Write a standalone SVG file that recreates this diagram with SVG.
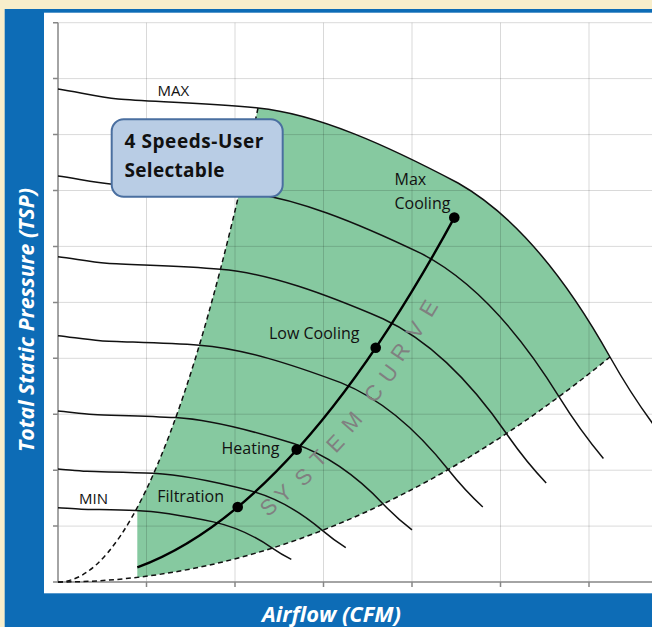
<svg xmlns="http://www.w3.org/2000/svg" xmlns:xlink="http://www.w3.org/1999/xlink" width="652" height="627" viewBox="0 0 652 627">
<style>
.grid{stroke:#000;stroke-opacity:.15;stroke-width:1;fill:none}
.axis{stroke:#868686;stroke-width:1.5;fill:none}
.fan{fill:none;stroke:#111;stroke-width:1.5;vector-effect:non-scaling-stroke}
.dash{fill:none;stroke:#111;stroke-width:1.5;stroke-dasharray:5 3.5}
.sys{fill:none;stroke:#000;stroke-width:2.4}
.lbl{font-family:"Open Sans","Liberation Sans",sans-serif;font-size:16px;fill:#111}
.sm{font-size:15px}
.title{font-family:"Open Sans","Liberation Sans",sans-serif;font-weight:bold;font-style:italic;font-size:22px;fill:#fff}
.box{font-family:"Open Sans","Liberation Sans",sans-serif;font-weight:bold;font-size:19px;fill:#111}
.sc{font-family:"Liberation Sans",sans-serif;font-size:22px;fill:#808080;text-anchor:middle}
</style>
<defs>
<path id="fanCurve" class="fan" d="M0,-493 C20,-490 40,-485 60,-483 C90,-480.5 150,-479 200,-474 C260,-468 330,-436 400,-399 C460,-365 510,-300 552,-225 C570,-193 588,-167 601,-150"/>
</defs>
<g id="frame">
<rect x="0" y="0" width="652" height="627" fill="#F8EECB"/>
<rect x="4.7" y="9" width="648" height="618" fill="#0D6CB6"/>
<rect x="44" y="12.7" width="608" height="580.6" fill="#fff"/>
</g>
<g id="region">
<path d="M258,108 C318,114 388,146 458,183 C518,217 568,282 610,357 Q373.65,549.7 137.3,577.4 L137.3,507.5 Q197.65,394.1 258,108 Z" fill="#86C9A0"/>
</g>
<g id="grid">
<path class="grid" d="M146.5,22.7V582M235,22.7V582M323.5,22.7V582M412,22.7V582M500.5,22.7V582M589,22.7V582"/>
<path class="grid" d="M58,22.7H652M58,78.6H652M58,134.6H652M58,190.5H652M58,246.4H652M58,302.4H652M58,358.3H652M58,414.2H652M58,470.2H652M58,526.1H652"/>
<path class="axis" d="M58,22.7V582H652"/>
<path class="axis" d="M53,22.7H58M53,78.6H58M53,134.6H58M53,190.5H58M53,246.4H58M53,302.4H58M53,358.3H58M53,414.2H58M53,470.2H58M53,526.1H58M53,582H58"/>
<path class="axis" d="M146.5,582V587M235,582V587M323.5,582V587M412,582V587M500.5,582V587M589,582V587"/>
</g>
<g id="connectors">
<use xlink:href="#fanCurve" transform="translate(58 582)"/>
<use xlink:href="#fanCurve" transform="translate(58 582) scale(0.9075 0.8235)"/>
<use xlink:href="#fanCurve" transform="translate(58 582) scale(0.8123 0.6598)"/>
<use xlink:href="#fanCurve" transform="translate(58 582) scale(0.7068 0.4996)"/>
<use xlink:href="#fanCurve" transform="translate(58 582) scale(0.589 0.3469)"/>
<use xlink:href="#fanCurve" transform="translate(58 582) scale(0.4788 0.2292)"/>
<use xlink:href="#fanCurve" transform="translate(58 582) scale(0.3882 0.1507)"/>
<path class="dash" d="M58,582 Q158,582 258,108"/>
<path class="dash" d="M58,582 Q334,582 610,357"/>
<path class="sys" d="M137.3,567.4 Q295.8,509.1 454.3,217.6"/>
</g>
<g id="points">
<circle cx="237.7" cy="507" r="5.3"/>
<circle cx="296.7" cy="449.6" r="5.3"/>
<circle cx="375.7" cy="347.8" r="5.3"/>
<circle cx="454.3" cy="217.6" r="5.3"/>
</g>
<g id="speed-box">
<rect x="111.7" y="119.3" width="171" height="77.4" rx="12" fill="#B9CDE5" stroke="#4A6FA0" stroke-width="2"/>
<text class="box" x="124.5" y="148.3" textLength="139">4 Speeds-User</text>
<text class="box" x="124.5" y="177.3" textLength="100">Selectable</text>
</g>
<g id="labels">
<text class="lbl sm" x="157.5" y="95.5">MAX</text>
<text class="lbl sm" x="79" y="504">MIN</text>
<text class="lbl" x="157.3" y="501.5">Filtration</text>
<text class="lbl" x="221.5" y="454">Heating</text>
<text class="lbl" x="269" y="339">Low Cooling</text>
<text class="lbl" x="394.5" y="185">Max</text>
<text class="lbl" x="394.5" y="208.5">Cooling</text>
</g>
<g id="system-curve-label">
<text class="sc" x="268.3" y="514.5" transform="rotate(-40 268.3 506.7)">S</text>
<text class="sc" x="283.3" y="501.1" transform="rotate(-41 283.3 493.3)">Y</text>
<text class="sc" x="303.3" y="484.5" transform="rotate(-43 303.3 476.7)">S</text>
<text class="sc" x="318.3" y="466.1" transform="rotate(-45 318.3 458.3)">T</text>
<text class="sc" x="335" y="451.1" transform="rotate(-47 335 443.3)">E</text>
<text class="sc" x="351.7" y="429.5" transform="rotate(-49 351.7 421.7)">M</text>
<text class="sc" x="373.3" y="401.1" transform="rotate(-52 373.3 393.3)">C</text>
<text class="sc" x="388.3" y="381.1" transform="rotate(-54 388.3 373.3)">U</text>
<text class="sc" x="400" y="359.5" transform="rotate(-56 400 351.7)">R</text>
<text class="sc" x="415" y="337.8" transform="rotate(-58 415 330)">V</text>
<text class="sc" x="428.3" y="316.1" transform="rotate(-59 428.3 308.3)">E</text>
</g>
<g id="axis-titles">
<text class="title" transform="translate(33.5 452) rotate(-90)" textLength="264" lengthAdjust="spacingAndGlyphs">Total Static Pressure (TSP)</text>
<text class="title" x="262" y="621.5" textLength="139" lengthAdjust="spacingAndGlyphs">Airflow (CFM)</text>
</g>
</svg>
